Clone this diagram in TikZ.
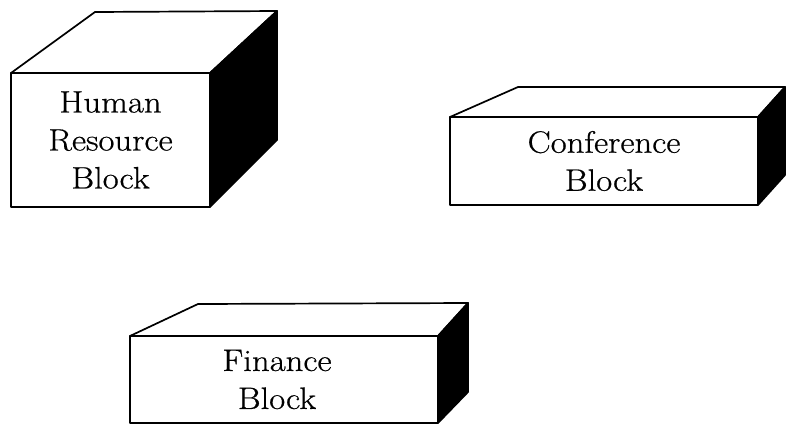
\documentclass[tikz,border=0pt]{standalone}
\usepackage{fontspec}
\setmainfont{Latin Modern Roman}[FakeStretch=1.12, FakeBold=0.6]
\begin{document}
\begin{tikzpicture}[x=1pt,y=-1pt,
  line join=round,
  face/.style={draw=black, line width=1.7pt, fill=white, inner sep=0pt, outer sep=0pt,
     align=center, font=\fontsize{31}{38}\selectfont},
  topface/.style={draw=black, line width=1.7pt, fill=white},
  sideface/.style={draw=black, line width=1.7pt, fill=black}]
\useasboundingbox (0,0) rectangle (786,424);

% Human Resource Block
\node[face, minimum width=199pt, minimum height=134pt] (hr) at (110.5,140) {Human\\Resource\\Block};
\coordinate (hrbl) at (95,12);
\coordinate (hrbr) at (277,11);
\coordinate (hrbb) at (277,140);
\draw[topface] (hr.north west) -- (hrbl) -- (hrbr) -- (hr.north east) -- cycle;
\draw[sideface] (hr.north east) -- (hrbr) -- (hrbb) -- (hr.south east) -- cycle;

% Conference Block
\node[face, minimum width=308pt, minimum height=88pt] (cf) at (604,161) {Conference\\Block};
\coordinate (cfbl) at (518,87);
\coordinate (cfbr) at (785,87);
\coordinate (cfbb) at (785,175);
\draw[topface] (cf.north west) -- (cfbl) -- (cfbr) -- (cf.north east) -- cycle;
\draw[sideface] (cf.north east) -- (cfbr) -- (cfbb) -- (cf.south east) -- cycle;

% Finance Block
\node[face, minimum width=308pt, minimum height=87pt] (fn) at (284,379.5) {\hspace*{-14pt}Finance\\\hspace*{-14pt}Block};
\coordinate (fnbl) at (198,304);
\coordinate (fnbr) at (468,303);
\coordinate (fnbb) at (468,392);
\draw[topface] (fn.north west) -- (fnbl) -- (fnbr) -- (fn.north east) -- cycle;
\draw[sideface] (fn.north east) -- (fnbr) -- (fnbb) -- (fn.south east) -- cycle;
\end{tikzpicture}
\end{document}
